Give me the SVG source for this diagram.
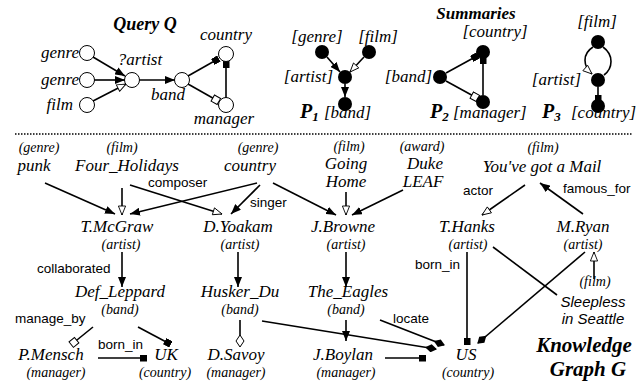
<svg xmlns="http://www.w3.org/2000/svg" width="644" height="381" viewBox="0 0 644 381">
<style>
.s{font-family:"Liberation Serif","Times New Roman",serif;font-style:italic;fill:#000}
.nm{font-size:17px;text-anchor:middle}
.ty{font-size:14px;text-anchor:middle}
.ql{font-size:17px}
.t{font-family:"Liberation Serif","Times New Roman",serif;font-style:italic;font-weight:bold;fill:#000}
.el{font-family:"Liberation Sans",Arial,sans-serif;font-size:13.5px;fill:#000}
.ss{font-family:"Liberation Sans",Arial,sans-serif;font-style:italic;font-size:15px;text-anchor:middle;fill:#000}
.e{stroke:#000;stroke-width:1.6;fill:none}
.oc{fill:#fff;stroke:#000;stroke-width:1}
.fc{fill:#000}
.aF{marker-end:url(#aF)}
.aO{marker-end:url(#aO)}
.qF{marker-end:url(#qF)}
.qO{marker-end:url(#qO)}
.dF{marker-end:url(#dF)}
.dO{marker-end:url(#dO)}
</style>
<defs>
<marker id="aF" viewBox="0 0 10 8" refX="10" refY="4" markerWidth="10" markerHeight="8" markerUnits="userSpaceOnUse" orient="auto"><path d="M0,0 L10,4 L0,8 z" fill="#000"/></marker>
<marker id="aO" viewBox="-1 -1 12 10" refX="10" refY="4" markerWidth="11" markerHeight="9" markerUnits="userSpaceOnUse" orient="auto"><path d="M0,0 L10,4 L0,8 z" fill="#fff" stroke="#000" stroke-width="1"/></marker>
<marker id="qF" viewBox="0 0 7 7" refX="6" refY="3.5" markerWidth="7" markerHeight="7" markerUnits="userSpaceOnUse" orient="auto"><rect x="0" y="0" width="7" height="7" fill="#000"/></marker>
<marker id="qO" viewBox="-1 -1 9 9" refX="6" refY="3.5" markerWidth="9" markerHeight="9" markerUnits="userSpaceOnUse" orient="auto"><rect x="0" y="0" width="7" height="7" fill="#fff" stroke="#000" stroke-width="1"/></marker>
<marker id="dF" viewBox="0 0 12 8" refX="11" refY="4" markerWidth="12" markerHeight="8" markerUnits="userSpaceOnUse" orient="auto"><path d="M0,4 L6,0 L12,4 L6,8 z" fill="#000"/></marker>
<marker id="dO" viewBox="-1 -1 14 10" refX="11" refY="4" markerWidth="14" markerHeight="10" markerUnits="userSpaceOnUse" orient="auto"><path d="M0,4 L6,0 L12,4 L6,8 z" fill="#fff" stroke="#000" stroke-width="1"/></marker>
</defs>
<rect width="644" height="381" fill="#fff"/>

<!-- Query Q -->
<text class="t" x="145" y="30" font-size="18" text-anchor="middle">Query Q</text>
<g id="connectors-query">
<line class="e aF" x1="93" y1="57" x2="125" y2="76"/>
<line class="e aF" x1="94" y1="80" x2="125" y2="80"/>
<line class="e aO" x1="93" y1="101" x2="126" y2="84"/>
<line class="e aF" x1="139" y1="80" x2="175" y2="80"/>
<line class="e qF" x1="188" y1="76" x2="218" y2="59"/>
<line class="e qO" x1="188" y1="84" x2="218" y2="101"/>
<line class="e qF" x1="226" y1="98" x2="226" y2="62"/>
</g>
<g id="q-genre1"><circle class="oc" cx="87" cy="53" r="7.5"/><text class="s ql" x="79" y="58" text-anchor="end">genre</text></g>
<g id="q-genre2"><circle class="oc" cx="87" cy="80" r="7.5"/><text class="s ql" x="79" y="85" text-anchor="end">genre</text></g>
<g id="q-film"><circle class="oc" cx="87" cy="105" r="7.5"/><text class="s ql" x="73" y="110" text-anchor="end">film</text></g>
<g id="q-artist"><circle class="oc" cx="132" cy="80" r="7.5"/><text class="s ql" x="140" y="65" text-anchor="middle">?artist</text></g>
<g id="q-band"><circle class="oc" cx="182" cy="80" r="7.5"/><text class="s ql" x="168" y="100" text-anchor="middle">band</text></g>
<g id="q-country"><circle class="oc" cx="226" cy="54" r="7.5"/><text class="s ql" x="226" y="40" text-anchor="middle">country</text></g>
<g id="q-manager"><circle class="oc" cx="226" cy="105" r="7.5"/><text class="s ql" x="224" y="124" text-anchor="middle">manager</text></g>

<!-- Summaries -->
<text class="t" x="476" y="19" font-size="17" text-anchor="middle">Summaries</text>
<g id="connectors-summaries">
<line class="e aF" x1="327" y1="57" x2="340" y2="72"/>
<line class="e aO" x1="364" y1="57" x2="350" y2="72"/>
<line class="e aF" x1="345" y1="84" x2="345" y2="97"/>
<line class="e qF" x1="446" y1="73" x2="477" y2="56"/>
<line class="e qO" x1="446" y1="81" x2="477" y2="98"/>
<line class="e qF" x1="483" y1="95" x2="483" y2="58"/>
<path class="e aO" d="M593,47 C582,54 583,66 592,74"/>
<path class="e" stroke-width="2.4" d="M603,47 C614,55 613,68 604,75"/>
<line class="e qF" x1="598" y1="87" x2="598" y2="101"/>
</g>
<g id="p1-genre"><circle class="fc" cx="322" cy="52" r="7"/><text class="s ql" x="317" y="42" text-anchor="middle">[genre]</text></g>
<g id="p1-film"><circle class="fc" cx="369" cy="52" r="7"/><text class="s ql" x="378" y="42" text-anchor="middle">[film]</text></g>
<g id="p1-artist"><circle class="fc" cx="345" cy="77" r="7"/><text class="s ql" x="333" y="82" text-anchor="end">[artist]</text></g>
<g id="p1-band"><circle class="fc" cx="345" cy="104" r="7"/><text class="t" x="300" y="118" font-size="20">P<tspan font-size="13" dy="3">1</tspan></text><text class="s ql" x="324" y="118">[band]</text></g>
<g id="p2-band"><circle class="fc" cx="440" cy="77" r="7"/><text class="s ql" x="432" y="82" text-anchor="end">[band]</text></g>
<g id="p2-country"><circle class="fc" cx="483" cy="52" r="7"/><text class="s ql" x="495" y="37" text-anchor="middle">[country]</text></g>
<g id="p2-manager"><circle class="fc" cx="483" cy="102" r="7"/><text class="t" x="430" y="118" font-size="20">P<tspan font-size="13" dy="3">2</tspan></text><text class="s ql" x="453" y="118">[manager]</text></g>
<g id="p3-film"><circle class="fc" cx="598" cy="42" r="7"/><text class="s ql" x="597" y="27" text-anchor="middle">[film]</text></g>
<g id="p3-artist"><circle class="fc" cx="598" cy="80" r="7"/><text class="s ql" x="581" y="85" text-anchor="end">[artist]</text></g>
<g id="p3-country"><circle class="fc" cx="598" cy="106" r="7"/><text class="t" x="542" y="118" font-size="20">P<tspan font-size="13" dy="3">3</tspan></text><text class="s ql" x="571" y="118">[country]</text></g>

<line x1="15" y1="134" x2="632" y2="134" stroke="#000" stroke-width="1.5" stroke-dasharray="1.5 1.5"/>

<!-- Knowledge graph connectors -->
<g id="connectors-kg">
<line class="e aF" x1="45" y1="183" x2="115" y2="214"/>
<line class="e aO" x1="122" y1="188" x2="122" y2="215"/>
<line class="e aO" x1="130" y1="185" x2="222" y2="214"/>
<line class="e aF" x1="257" y1="183" x2="130" y2="214"/>
<line class="e aF" x1="260" y1="185" x2="231" y2="214"/>
<line class="e aF" x1="273" y1="183" x2="336" y2="215"/>
<line class="e aO" x1="346" y1="192" x2="346" y2="215"/>
<line class="e aF" x1="403" y1="190" x2="352" y2="215"/>
<line class="e aO" x1="525" y1="185" x2="482" y2="215"/>
<line class="e aF" x1="583" y1="214" x2="540" y2="183"/>
<line class="e" x1="493" y1="247" x2="557" y2="295"/>
<line class="e aO" x1="594" y1="279" x2="594" y2="252"/>
<line class="e dF" x1="585" y1="252" x2="478" y2="343"/>
<line class="e qF" x1="467" y1="252" x2="467" y2="344"/>
<line class="e aF" x1="122" y1="252" x2="122" y2="287"/>
<line class="e aF" x1="238" y1="252" x2="238" y2="287"/>
<line class="e aF" x1="346" y1="252" x2="346" y2="287"/>
<line class="e qO" x1="93" y1="327" x2="72" y2="344"/>
<line class="e qF" x1="138" y1="327" x2="170" y2="344"/>
<line class="e qF" x1="98" y1="358" x2="146" y2="358"/>
<line class="e dO" x1="240" y1="320" x2="240" y2="346"/>
<line class="e dF" x1="262" y1="321" x2="436" y2="349"/>
<line class="e aF" x1="346" y1="320" x2="346" y2="341"/>
<line class="e dF" x1="380" y1="320" x2="444" y2="345"/>
<line class="e qF" x1="385" y1="358" x2="425" y2="358"/>
<text class="el" x="148" y="187">composer</text>
<text class="el" x="250" y="207">singer</text>
<text class="el" x="463" y="195">actor</text>
<text class="el" x="563" y="193">famous_for</text>
<text class="el" x="415" y="269">born_in</text>
<text class="el" x="37" y="273">collaborated</text>
<text class="el" x="15" y="323">manage_by</text>
<text class="el" x="98" y="349">born_in</text>
<text class="el" x="393" y="323">locate</text>
</g>

<!-- KG nodes -->
<g id="punk"><text class="s ty" x="39" y="152">(genre)</text><text class="s nm" x="34" y="171">punk</text></g>
<g id="four-holidays"><text class="s ty" x="122" y="152">(film)</text><text class="s nm" x="127" y="171">Four_Holidays</text></g>
<g id="country"><text class="s ty" x="258" y="152">(genre)</text><text class="s nm" x="250" y="171">country</text></g>
<g id="going-home"><text class="s ty" x="349" y="151">(film)</text><text class="s nm" x="346" y="169">Going</text><text class="s nm" x="346" y="187">Home</text></g>
<g id="duke-leaf"><text class="s ty" x="422" y="151">(award)</text><text class="s nm" x="425" y="169">Duke</text><text class="s nm" x="423" y="187">LEAF</text></g>
<g id="youve-got-a-mail"><text class="s ty" x="543" y="152">(film)</text><text class="s nm" x="542" y="172">You've got a Mail</text></g>
<g id="t-mcgraw"><text class="s nm" x="117" y="232">T.McGraw</text><text class="s ty" x="121" y="249">(artist)</text></g>
<g id="d-yoakam"><text class="s nm" x="238" y="232">D.Yoakam</text><text class="s ty" x="240" y="249">(artist)</text></g>
<g id="j-browne"><text class="s nm" x="343" y="232">J.Browne</text><text class="s ty" x="346" y="249">(artist)</text></g>
<g id="t-hanks"><text class="s nm" x="467" y="232">T.Hanks</text><text class="s ty" x="468" y="249">(artist)</text></g>
<g id="m-ryan"><text class="s nm" x="583" y="232">M.Ryan</text><text class="s ty" x="583" y="249">(artist)</text></g>
<g id="def-leppard"><text class="s nm" x="120" y="297">Def_Leppard</text><text class="s ty" x="120" y="314">(band)</text></g>
<g id="husker-du"><text class="s nm" x="240" y="297">Husker_Du</text><text class="s ty" x="240" y="314">(band)</text></g>
<g id="the-eagles"><text class="s nm" x="348" y="297">The_Eagles</text><text class="s ty" x="346" y="314">(band)</text></g>
<g id="sleepless"><text class="s ty" x="595" y="286">(film)</text><text class="ss" x="593" y="307">Sleepless</text><text class="ss" x="593" y="324">in Seattle</text></g>
<g id="p-mensch"><text class="s nm" x="51" y="360">P.Mensch</text><text class="s ty" x="56" y="377">(manager)</text></g>
<g id="uk"><text class="s nm" x="166" y="360">UK</text><text class="s ty" x="165" y="377">(country)</text></g>
<g id="d-savoy"><text class="s nm" x="236" y="360">D.Savoy</text><text class="s ty" x="236" y="377">(manager)</text></g>
<g id="j-boylan"><text class="s nm" x="343" y="360">J.Boylan</text><text class="s ty" x="346" y="377">(manager)</text></g>
<g id="us"><text class="s nm" x="466" y="360">US</text><text class="s ty" x="468" y="377">(country)</text></g>
<text class="t" x="584" y="352" font-size="21" text-anchor="middle">Knowledge</text>
<text class="t" x="588" y="376" font-size="21" text-anchor="middle">Graph G</text>
</svg>
